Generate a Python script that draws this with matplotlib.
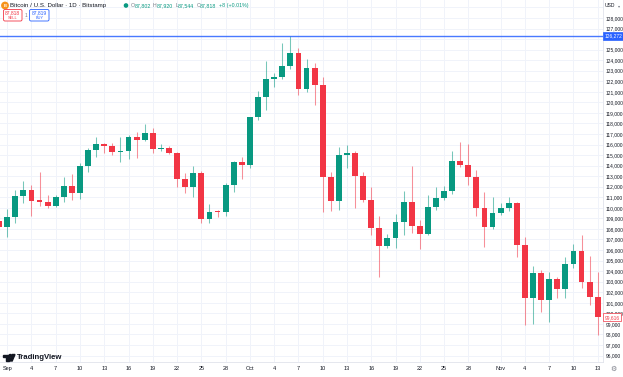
import matplotlib
matplotlib.use("Agg")
import matplotlib.pyplot as plt
import matplotlib.transforms as mtransforms
from matplotlib.patches import Circle, FancyBboxPatch, Polygon
import pandas as pd

plt.rcParams['font.family'] = ['Liberation Sans', 'DejaVu Sans']

# Daily candles, Bitstamp BTC/USD, 31 Aug .. 13 Nov
dates = pd.date_range("2025-08-31", "2025-11-13", freq="D")
opens = [108780, 108210, 109160, 111120, 111690, 110700, 110560, 110180, 111060, 112040,
         111450, 113940, 115480, 116050, 115860, 115250, 115360, 116740, 116400, 117070,
         115610, 115700, 115230, 112710, 111950, 113280, 108970, 109690, 109610, 112170,
         114350, 114030, 118580, 120540, 122210, 122380, 123450, 124650, 121300, 123260,
         121640, 112950, 110680, 115010, 115200, 113020, 110720, 108120, 106380, 107140,
         108630, 110530, 108280, 107550, 110050, 110960, 111630, 114470, 114060, 112900,
         109960, 108210, 109480, 109960, 110430, 106480, 101420, 103800, 101260, 103220,
         102280, 104650, 105910, 102940, 101580]
highs = [109450, 109860, 111690, 112550, 112160, 113370, 111220, 111210, 112900, 113210,
         114280, 115650, 116740, 116180, 116120, 116740, 116900, 117220, 117950, 117540,
         116070, 115860, 115320, 113280, 113970, 113520, 110360, 109800, 112330, 114400,
         114790, 118650, 121080, 123950, 122810, 125660, 126272, 125130, 124080, 123700,
         122430, 113430, 115800, 115960, 115420, 113430, 111950, 109230, 107490, 109420,
         111630, 114000, 108850, 111220, 112000, 112070, 115420, 116270, 116020, 113590,
         111530, 111000, 110430, 111060, 110600, 107210, 104520, 104110, 103950, 103400,
         105370, 106570, 107400, 105400, 103950]
lows = [107900, 107270, 108530, 110490, 109260, 110180, 109960, 110050, 110580, 110740,
        110870, 113430, 114790, 115170, 115010, 114370, 114660, 114700, 116300, 115170,
        115420, 115100, 112000, 111440, 111060, 108590, 108590, 109100, 109230, 111530,
        112710, 113800, 118330, 119280, 121490, 122190, 123130, 120670, 121010, 119720,
        109600, 109700, 109750, 113750, 109960, 110580, 107450, 103470, 106160, 106160,
        107430, 107590, 106070, 107430, 109800, 110740, 111310, 113840, 112170, 109230,
        106260, 108000, 109300, 109700, 105310, 98890, 98990, 100150, 99210, 101420,
        101420, 104270, 102370, 100790, 97950]
closes = [108210, 109160, 111120, 111690, 110650, 110560, 110180, 111060, 112040, 111450,
          113940, 115480, 116050, 115860, 115270, 115360, 116740, 116400, 117070, 115610,
          115700, 115230, 112710, 111950, 113280, 108970, 109630, 109610, 112170, 114350,
          114030, 118580, 120540, 122210, 122380, 123450, 124650, 121300, 123260, 121640,
          112950, 110680, 115010, 115200, 113020, 110720, 108120, 106380, 107140, 108630,
          110530, 108280, 107550, 110050, 110960, 111630, 114470, 114060, 112900, 109960,
          108210, 109480, 109960, 110430, 106480, 101420, 103800, 101260, 103220, 102280,
          104650, 105910, 102940, 101580, 99616]

ath_price = 126272
last_price = 99616
price_ticks = list(range(96000, 129001, 1000))
header_ohlc = [("O", "87,802"), ("H", "87,920"), ("L", "87,544"), ("C", "87,818")]
header_change = "+8 (+0.01%)"

GREEN = "#089981"
RED = "#f23645"
BLUE = "#2962ff"
TXT = "#131722"
GREY = "#787b86"

fig = plt.figure(figsize=(6.23, 3.77), dpi=100)
W, H = 623, 377
ax = fig.add_axes([0, 15 / H, 603 / W, 362 / H])

# candles
for i in range(len(dates)):
    o, h, l, c = opens[i], highs[i], lows[i], closes[i]
    col = GREEN if c >= o else RED
    ax.vlines(i, l, h, color=col, lw=0.75, alpha=0.55, zorder=2)
    ax.bar(i, max(abs(c - o), 110), bottom=min(o, c), width=0.72, color=col,
           linewidth=0, zorder=3)

ax.set_xlim(0.11, 74.65)
ax.set_ylim(95388, 129702)

# time axis labels
tick_pos, tick_lab = [], []
for i, d in enumerate(dates):
    if d.day == 1:
        tick_pos.append(i)
        tick_lab.append(d.strftime("%b"))
    elif d.day in (4, 7, 10, 13, 16, 19, 22, 25, 28):
        tick_pos.append(i)
        tick_lab.append(str(d.day))
ax.set_xticks(tick_pos)
ax.set_xticklabels(tick_lab, fontsize=4, color=TXT)

ax.yaxis.tick_right()
ax.set_yticks(price_ticks)
ax.set_yticklabels(["" if p in (126000, 129000) else f"{p:,}" for p in price_ticks],
                   fontsize=3.5, color=TXT)
ax.tick_params(axis="both", length=0)
ax.tick_params(axis="x", pad=3)
ax.tick_params(axis="y", pad=1.8)

ax.grid(True, color="#f0f3fa", lw=0.7, zorder=0)
for s in ["top", "left"]:
    ax.spines[s].set_visible(False)
for s in ["right", "bottom"]:
    ax.spines[s].set_color("#e0e3eb")
    ax.spines[s].set_linewidth(0.6)

# all-time-high line and price labels
ax.axhline(ath_price, color=BLUE, lw=1.0, alpha=0.85, zorder=4)
tr = mtransforms.blended_transform_factory(ax.transAxes, ax.transData)
ax.text(1.003, ath_price, f"{ath_price:,}", transform=tr, fontsize=3.5, color="white",
        va="center", ha="left", clip_on=False,
        bbox=dict(boxstyle="square,pad=0.3", fc=BLUE, ec=BLUE, lw=0.5))
ax.text(1.003, last_price, f"{last_price:,}", transform=tr, fontsize=3.5, color=RED,
        va="center", ha="left", clip_on=False,
        bbox=dict(boxstyle="square,pad=0.3", fc="white", ec=RED, lw=0.5))

# overlay in pixel coords for header / logo
ov = fig.add_axes([0, 0, 1, 1])
ov.set_xlim(0, W)
ov.set_ylim(H, 0)
ov.axis("off")
ov.patch.set_alpha(0)
renderer = fig.canvas.get_renderer()

ov.add_patch(Circle((5, 5.5), 3.2, color="#f7931a"))
ov.text(5, 5.7, "B", fontsize=3, color="white", ha="center", va="center", weight="bold")
ov.text(10.5, 5.5, "Bitcoin / U.S. Dollar \u00b7 1D \u00b7 Bitstamp", fontsize=4.4,
        color=TXT, va="center", ha="left")
ov.add_patch(Circle((126, 5.5), 1.6, color=GREEN))


def put(x, s, col, size=3.8):
    t = ov.text(x, 5.5, s, fontsize=size, color=col, va="center", ha="left")
    return x + t.get_window_extent(renderer).width


x0 = 130.5
for k, v in header_ohlc:
    x0 = put(x0, k, GREY)
    x0 = put(x0, v, GREEN) + 2.2
put(x0, header_change, GREEN)

ov.add_patch(FancyBboxPatch((3.5, 9.5), 18.5, 11.5, boxstyle="round,pad=0,rounding_size=1.5",
                            fc="white", ec=RED, lw=0.6))
ov.text(12.75, 13.2, "87,818", fontsize=3.6, color=RED, ha="center", va="center")
ov.text(12.75, 18, "SELL", fontsize=2.8, color=RED, ha="center", va="center")
ov.text(25.8, 15.2, "1", fontsize=3.4, color=GREY, ha="center", va="center")
ov.add_patch(FancyBboxPatch((29.5, 9.5), 19.5, 11.5, boxstyle="round,pad=0,rounding_size=1.5",
                            fc="white", ec=BLUE, lw=0.6))
ov.text(39.25, 13.2, "87,819", fontsize=3.6, color=BLUE, ha="center", va="center")
ov.text(39.25, 18, "BUY", fontsize=2.8, color=BLUE, ha="center", va="center")

ov.text(604.5, 5.5, "USD", fontsize=3.6, color=TXT, ha="left", va="center")
ov.text(619.5, 5.8, "\u25be", fontsize=3, color=GREY, ha="center", va="center",
        family="DejaVu Sans")

# TradingView logo
ov.add_patch(Polygon([(3, 354.5), (8.5, 354.5), (8.5, 361), (6.3, 361), (6.3, 357), (3, 357)],
                     closed=True, color=TXT))
ov.add_patch(Circle((10.3, 355.8), 1.3, color=TXT))
ov.add_patch(Polygon([(12.3, 354.5), (15, 354.5), (12.2, 361), (9.6, 361)], closed=True, color=TXT))
ov.text(16.5, 357.8, "TradingView", fontsize=5.6, color=TXT, weight="bold",
        ha="left", va="center")

ov.text(613, 369, "\u2699", fontsize=5, color=GREY, ha="center", va="center",
        family="DejaVu Sans")

fig.savefig("out.png", dpi=100, facecolor="white")
